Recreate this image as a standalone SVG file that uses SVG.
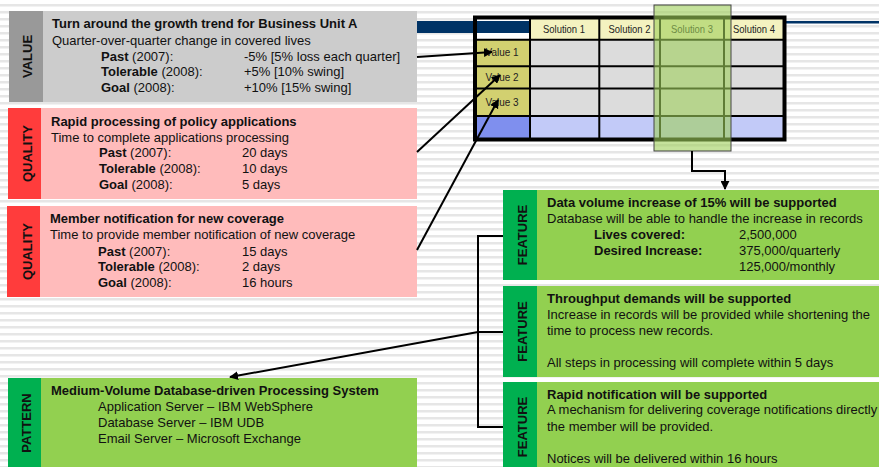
<svg xmlns="http://www.w3.org/2000/svg" width="879" height="467" viewBox="0 0 879 467">
<defs>
<pattern id="stripes" width="10" height="7" patternUnits="userSpaceOnUse">
<rect width="10" height="7" fill="#ffffff"/>
<rect y="4" width="10" height="2.5" fill="#e6e6e6"/>
</pattern>
<marker id="arr" viewBox="0 0 10 10" refX="9" refY="5" markerWidth="9" markerHeight="9" markerUnits="userSpaceOnUse" orient="auto">
<path d="M0,0 L10,5 L0,10 z" fill="#000"/>
</marker>
<style>
text{font-family:"Liberation Sans",Arial,sans-serif;font-size:13px;fill:#111;}
.b{font-weight:bold;}
.lab{font-weight:bold;font-size:13px;text-anchor:middle;fill:#111;}
.mt{font-size:11px;text-anchor:middle;fill:#222;}
.grid{stroke:#000;stroke-width:2;fill:none;}
.conn{stroke:#000;stroke-width:2;fill:none;}
</style>
</defs>
<rect width="879" height="467" fill="url(#stripes)"/>
<rect x="417" y="21" width="113" height="12" fill="#003366"/>
<rect x="785" y="21" width="94" height="2.5" fill="#003366"/>

<g id="value">
<rect x="9" y="11" width="408" height="91" fill="#cccccc"/>
<rect x="9" y="11" width="34" height="91" fill="#999999"/>
<text class="lab" transform="translate(27.5,56.5) rotate(-90)" y="4.7">VALUE</text>
<text class="b" x="52" y="28">Turn around the growth trend for Business Unit A</text>
<text x="52" y="45">Quarter-over-quarter change in covered lives</text>
<text x="101" y="61"><tspan class="b">Past</tspan> (2007):</text><text x="244" y="61">-5% [5% loss each quarter]</text>
<text x="101" y="76"><tspan class="b">Tolerable</tspan> (2008):</text><text x="244" y="76">+5% [10% swing]</text>
<text x="101" y="92"><tspan class="b">Goal</tspan> (2008):</text><text x="244" y="92">+10% [15% swing]</text>
</g>

<g id="quality1">
<rect x="8" y="108" width="409" height="91" fill="#ffbbbb"/>
<rect x="8" y="108" width="33" height="91" fill="#ff3c3c"/>
<text class="lab" transform="translate(27,153.5) rotate(-90)" y="4.7">QUALITY</text>
<text class="b" x="51" y="126">Rapid processing of policy applications</text>
<text x="51" y="142">Time to complete applications processing</text>
<text x="99" y="157"><tspan class="b">Past</tspan> (2007):</text><text x="242" y="157">20 days</text>
<text x="99" y="173"><tspan class="b">Tolerable</tspan> (2008):</text><text x="242" y="173">10 days</text>
<text x="99" y="189"><tspan class="b">Goal</tspan> (2008):</text><text x="242" y="189">5 days</text>
</g>

<g id="quality2">
<rect x="7" y="206" width="410" height="91" fill="#ffbbbb"/>
<rect x="7" y="206" width="33" height="91" fill="#ff3c3c"/>
<text class="lab" transform="translate(27,251.5) rotate(-90)" y="4.7">QUALITY</text>
<text class="b" x="50" y="223">Member notification for new coverage</text>
<text x="50" y="239">Time to provide member notification of new coverage</text>
<text x="98" y="256"><tspan class="b">Past</tspan> (2007):</text><text x="242" y="256">15 days</text>
<text x="98" y="271"><tspan class="b">Tolerable</tspan> (2008):</text><text x="242" y="271">2 days</text>
<text x="98" y="287"><tspan class="b">Goal</tspan> (2008):</text><text x="242" y="287">16 hours</text>
</g>

<g id="pattern">
<rect x="8" y="378" width="409" height="90" fill="#92d050"/>
<rect x="8" y="378" width="33" height="90" fill="#00b050"/>
<text class="lab" transform="translate(26.7,423) rotate(-90)" y="4.7">PATTERN</text>
<text class="b" x="51" y="395">Medium-Volume Database-driven Processing System</text>
<text x="98" y="411">Application Server – IBM WebSphere</text>
<text x="98" y="427">Database Server – IBM UDB</text>
<text x="98" y="443">Email Server – Microsoft Exchange</text>
</g>

<g id="feature1">
<rect x="503" y="190" width="376" height="90" fill="#92d050"/>
<rect x="503" y="190" width="34" height="90" fill="#00b050"/>
<text class="lab" transform="translate(522.5,235) rotate(-90)" y="4.7">FEATURE</text>
<text class="b" x="547" y="207">Data volume increase of 15% will be supported</text>
<text x="547" y="223">Database will be able to handle the increase in records</text>
<text class="b" x="594" y="239">Lives covered:</text><text x="739" y="239">2,500,000</text>
<text class="b" x="594" y="255">Desired Increase:</text><text x="739" y="255">375,000/quarterly</text>
<text x="739" y="271">125,000/monthly</text>
</g>

<g id="feature2">
<rect x="503" y="286" width="376" height="91" fill="#92d050"/>
<rect x="503" y="286" width="34" height="91" fill="#00b050"/>
<text class="lab" transform="translate(522.5,331.5) rotate(-90)" y="4.7">FEATURE</text>
<text class="b" x="547" y="303">Throughput demands will be supported</text>
<text x="547" y="319">Increase in records will be provided while shortening the</text>
<text x="547" y="335">time to process new records.</text>
<text x="547" y="367">All steps in processing will complete within 5 days</text>
</g>

<g id="feature3">
<rect x="503" y="382" width="376" height="90" fill="#92d050"/>
<rect x="503" y="382" width="34" height="90" fill="#00b050"/>
<text class="lab" transform="translate(522.5,427) rotate(-90)" y="4.7">FEATURE</text>
<text class="b" x="547" y="399">Rapid notification will be supported</text>
<text x="547" y="414">A mechanism for delivering coverage notifications directly</text>
<text x="547" y="431">the member will be provided.</text>
<text x="547" y="463">Notices will be delivered within 16 hours</text>
</g>

<g id="matrix">
<rect x="476" y="19" width="54" height="20" fill="#ffffff"/>
<rect x="476" y="21" width="54" height="12" fill="#003366"/>
<rect x="530" y="19" width="253" height="21" fill="#f4f2c0"/>
<rect x="476" y="40" width="54" height="76" fill="#d2d070"/>
<rect x="530" y="40" width="253" height="76" fill="#dcdcdc"/>
<rect x="476" y="116" width="54" height="22" fill="#7f8fee"/>
<rect x="530" y="116" width="253" height="22" fill="#c2caf8"/>
<path class="grid" d="M530,19 V138 M599.3,19 V138 M660,19 V138 M724,19 V138 M476,39.7 H783 M476,66.2 H783 M476,88.5 H783 M476,116 H783"/>
<path class="grid" d="M530,17.5 V40" stroke-width="2.5"/>
<rect x="475" y="17.5" width="309.5" height="122" fill="none" stroke="#000" stroke-width="4"/>
<text class="mt" x="564" y="33" textLength="42" lengthAdjust="spacingAndGlyphs">Solution 1</text>
<text class="mt" x="629.5" y="33" textLength="42" lengthAdjust="spacingAndGlyphs">Solution 2</text>
<text class="mt" x="692" y="33" textLength="42" lengthAdjust="spacingAndGlyphs">Solution 3</text>
<text class="mt" x="754" y="33" textLength="42" lengthAdjust="spacingAndGlyphs">Solution 4</text>
<text class="mt" x="502" y="56" textLength="33" lengthAdjust="spacingAndGlyphs">Value 1</text>
<text class="mt" x="502" y="81" textLength="33" lengthAdjust="spacingAndGlyphs">Value 2</text>
<text class="mt" x="502" y="106" textLength="33" lengthAdjust="spacingAndGlyphs">Value 3</text>
</g>

<g id="solution3-highlight">
<rect x="654" y="5" width="77" height="146" fill="#9fcf5a" fill-opacity="0.6" stroke="#444" stroke-width="1"/>
</g>

<g id="connectors">
<line class="conn" x1="417" y1="57" x2="492" y2="52" marker-end="url(#arr)"/>
<line class="conn" x1="417" y1="152" x2="500" y2="75" marker-end="url(#arr)"/>
<line class="conn" x1="417" y1="250" x2="498" y2="100" marker-end="url(#arr)"/>
<polyline class="conn" points="692,151 692,171 725,171 725,189" marker-end="url(#arr)"/>
<path class="conn" stroke-width="2.5" d="M503,236 H478 V427 H503 M478,332 H503"/>
<line class="conn" x1="478" y1="332" x2="230" y2="377" marker-end="url(#arr)"/>
</g>
</svg>
